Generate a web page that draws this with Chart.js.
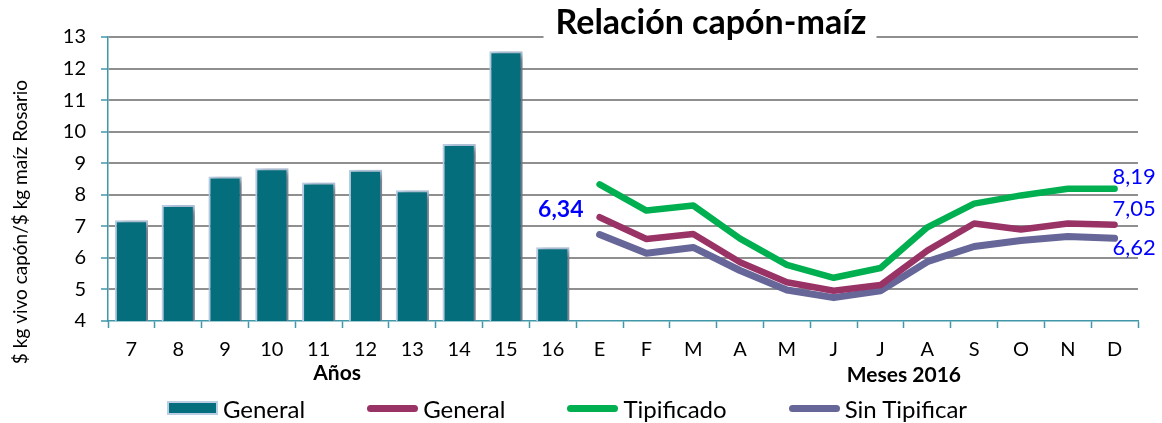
<!DOCTYPE html>
<html>
<head>
<meta charset="utf-8">
<title>Relación capón-maíz</title>
<script src="https://cdn.jsdelivr.net/npm/chart.js@4.4.1/dist/chart.umd.min.js"></script>
<style>
    html, body { margin: 0; padding: 0; background: #fff; }
    #wrap { position: relative; width: 1162px; height: 423px; font-family: Lato, 'Open Sans', sans-serif; }
    #legend {
        position: absolute; left: 0; top: 394px; width: 1134px; height: 28px;
        display: flex; justify-content: center; align-items: center; gap: 62px;
        font-size: 24px; color: #000;
    }
    .item { display: flex; align-items: center; }
    .swatch { width: 51px; margin-right: 5px; }
    .swatch.bar { height: 14px; box-sizing: border-box; border: 2px solid #b9cde5; }
    .swatch.line { height: 7px; border-radius: 4px; }
</style>
</head>
<body>
<div id="wrap">
    <canvas id="chart" width="1162" height="423"></canvas>
    <div id="legend"></div>
</div>
<script>
// categories: years 2007-2016, then months of 2016
const categories = ['7', '8', '9', '10', '11', '12', '13', '14', '15', '16',
    'E', 'F', 'M', 'A', 'M', 'J', 'J', 'A', 'S', 'O', 'N', 'D'];
const yearCount = 10;

// yearly average ratio (bars)
const yearValues = [7.19, 7.68, 8.58, 8.84, 8.39, 8.79, 8.14, 9.61, 12.55, 6.34];

// monthly 2016 ratio (lines)
const generalMonthly = [7.29, 6.60, 6.76, 5.86, 5.23, 4.96, 5.14, 6.23, 7.09, 6.90, 7.09, 7.05];
const tipificado = [8.33, 7.50, 7.66, 6.61, 5.78, 5.37, 5.68, 6.97, 7.72, 7.98, 8.19, 8.19];
const sinTipificar = [6.74, 6.15, 6.33, 5.60, 4.98, 4.74, 4.96, 5.88, 6.36, 6.55, 6.68, 6.62];

const yMin = 4;
const yMax = 13;

const TEAL = '#056e7c';
const AXIS = '#3f97a8';
const GRID = '#8f8f8f';
const LABEL_BLUE = '#0000ff';
const FONT = "Lato, 'Open Sans', sans-serif";

const padYears = arr => arr.concat(new Array(categories.length - yearCount).fill(null));
const padMonths = arr => new Array(yearCount).fill(null).concat(arr);
const fmt = v => v.toFixed(2).replace('.', ',');

// bar shadow, like the office drop shadow on the columns
const barShadow = {
    id: 'barShadow',
    beforeDatasetDraw(chart, args) {
        if (args.index !== 0) return;
        const ctx = chart.ctx;
        ctx.save();
        ctx.shadowColor = 'rgba(0, 0, 0, 0.45)';
        ctx.shadowOffsetX = 5;
        ctx.shadowOffsetY = 2;
        ctx.shadowBlur = 7;
    },
    afterDatasetDraw(chart, args) {
        if (args.index === 0) chart.ctx.restore();
    }
};

// title, axis titles, group labels and value labels
const decor = {
    id: 'decor',
    afterDraw(chart) {
        const ctx = chart.ctx;
        const x = chart.scales.x;
        const y = chart.scales.y;
        ctx.save();

        // title sits on top of the 13 gridline
        const title = 'Relación capón-maíz';
        ctx.font = 'bold 34px ' + FONT;
        const tw = ctx.measureText(title).width;
        const tx = 711;
        ctx.fillStyle = '#fff';
        ctx.fillRect(tx - tw / 2 - 12, 28, tw + 22, 14);
        ctx.fillStyle = '#000';
        ctx.textAlign = 'center';
        ctx.textBaseline = 'middle';
        ctx.fillText(title, tx, 23);

        // y axis title
        ctx.save();
        ctx.translate(21, 222);
        ctx.rotate(-Math.PI / 2);
        ctx.font = '19px ' + FONT;
        ctx.fillText('$ kg vivo capón/$ kg maíz Rosario', 0, 0);
        ctx.restore();

        // group labels under the categories
        ctx.font = 'bold 21px ' + FONT;
        const mid = (a, b) => (x.getPixelForValue(a) + x.getPixelForValue(b)) / 2;
        ctx.fillText('Años', mid(4, 5) - 5, 373);
        ctx.fillText('Meses 2016', mid(16, 17), 375);

        // last year bar value
        const lastYear = yearCount - 1;
        ctx.fillStyle = LABEL_BLUE;
        ctx.font = 'bold 23px ' + FONT;
        ctx.fillText(fmt(yearValues[lastYear]),
            x.getPixelForValue(lastYear) + 8, y.getPixelForValue(yearValues[lastYear]) - 38);

        // end-of-line values
        const last = categories.length - 1;
        const lx = x.getPixelForValue(last) - 2;
        ctx.font = '22px ' + FONT;
        ctx.textAlign = 'left';
        [[tipificado, -12], [generalMonthly, -16], [sinTipificar, 10]].forEach(([s, dy]) => {
            const v = s[s.length - 1];
            ctx.fillText(fmt(v), lx, y.getPixelForValue(v) + dy);
        });
        ctx.restore();
    }
};

const datasets = [
    {
        type: 'bar',
        label: 'General',
        data: padYears(yearValues),
        backgroundColor: TEAL,
        borderColor: '#b9cde5',
        borderWidth: 2,
        categoryPercentage: 1,
        barPercentage: 0.71
    },
    {
        type: 'line',
        label: 'General',
        data: padMonths(generalMonthly),
        borderColor: '#993366',
        borderWidth: 6.5
    },
    {
        type: 'line',
        label: 'Tipificado',
        data: padMonths(tipificado),
        borderColor: '#00b050',
        borderWidth: 6.5
    },
    {
        type: 'line',
        label: 'Sin Tipificar',
        data: padMonths(sinTipificar),
        borderColor: '#666699',
        borderWidth: 7
    }
];

datasets.forEach(d => {
    if (d.type !== 'line') return;
    d.pointRadius = 0;
    d.pointHoverRadius = 0;
    d.tension = 0;
    d.borderCapStyle = 'round';
    d.borderJoinStyle = 'round';
    d.spanGaps = false;
});

const chart = new Chart(document.getElementById('chart'), {
    type: 'bar',
    data: { labels: categories, datasets },
    options: {
        responsive: false,
        animation: false,
        devicePixelRatio: 1,
        layout: { padding: { top: 37, right: 24, left: 0, bottom: 0 } },
        plugins: {
            legend: { display: false },
            title: { display: false },
            tooltip: { enabled: false }
        },
        scales: {
            x: {
                offset: true,
                afterFit: s => { s.height = 102; },
                grid: {
                    offset: true,
                    drawOnChartArea: false,
                    tickLength: 7,
                    tickColor: AXIS,
                    tickWidth: 1.5
                },
                border: { color: AXIS, width: 1.5 },
                ticks: {
                    color: '#000',
                    padding: 10,
                    maxRotation: 0,
                    autoSkip: false,
                    font: { family: FONT, size: 20 }
                }
            },
            y: {
                min: yMin,
                max: yMax,
                afterFit: s => { s.width = 108; },
                grid: {
                    color: c => (c.tick && c.tick.value === yMin ? 'rgba(0,0,0,0)' : GRID),
                    lineWidth: 2,
                    tickLength: 7,
                    tickColor: AXIS,
                    tickWidth: 1.5
                },
                border: { color: AXIS, width: 1.5 },
                ticks: {
                    stepSize: 1,
                    color: '#000',
                    padding: 15,
                    font: { family: FONT, size: 20 }
                }
            }
        }
    },
    plugins: [barShadow, decor]
});

// legend built from the dataset styles
const legend = document.getElementById('legend');
chart.data.datasets.forEach(d => {
    const item = document.createElement('div');
    item.className = 'item';
    const sw = document.createElement('span');
    if (d.type === 'bar') {
        sw.className = 'swatch bar';
        sw.style.background = d.backgroundColor;
    } else {
        sw.className = 'swatch line';
        sw.style.background = d.borderColor;
    }
    const txt = document.createElement('span');
    txt.textContent = d.label;
    item.appendChild(sw);
    item.appendChild(txt);
    legend.appendChild(item);
});
</script>
</body>
</html>
